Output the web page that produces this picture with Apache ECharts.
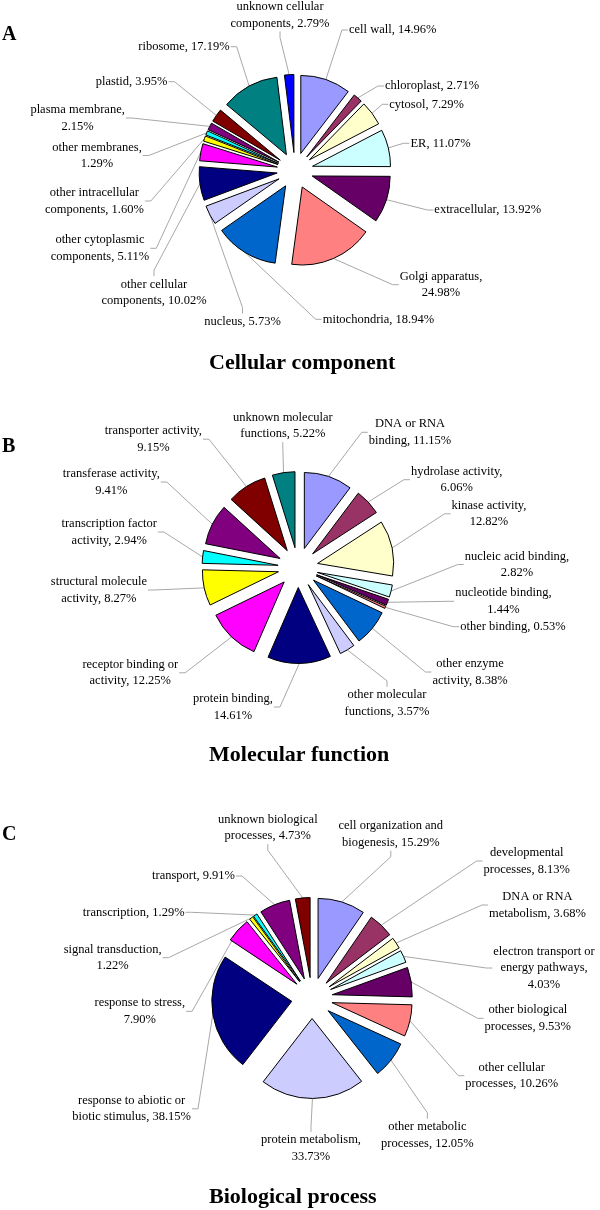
<!DOCTYPE html>
<html>
<head>
<meta charset="utf-8">
<script src="https://cdn.jsdelivr.net/npm/echarts@6/dist/echarts.min.js"></script>
<style>html,body{margin:0;padding:0;background:#fff}#c{width:600px;height:1210px}</style>
</head>
<body>
<div id="c"></div>
<script>
// ---------- data ----------
const catA = ['cell wall','chloroplast','cytosol','ER','extracellular','Golgi apparatus','mitochondria','nucleus','other cellular\ncomponents','other cytoplasmic\ncomponents','other intracellular\ncomponents','other membranes','plasma membrane','plastid','ribosome','unknown cellular\ncomponents'];
const valA = [14.96,2.71,7.29,11.07,13.92,24.98,18.94,5.73,10.02,5.11,1.60,1.29,2.15,3.95,17.19,2.79];

const catB = ['DNA or RNA\nbinding','hydrolase activity','kinase activity','nucleic acid binding','nucleotide binding','other binding','other enzyme\nactivity','other molecular\nfunctions','protein binding','receptor binding or\nactivity','structural molecule\nactivity','transcription factor\nactivity','transferase activity','transporter activity','unknown molecular\nfunctions'];
const valB = [11.15,6.06,12.82,2.82,1.44,0.53,8.38,3.57,14.61,12.25,8.27,2.94,9.41,9.15,5.22];

const catC = ['cell organization and\nbiogenesis','developmental\nprocesses','DNA or RNA\nmetabolism','electron transport or\nenergy pathways','other biological\nprocesses','other cellular\nprocesses','other metabolic\nprocesses','protein metabolism','response to abiotic or\nbiotic stimulus','response to stress','signal transduction','transcription','transport','unknown biological\nprocesses'];
const valC = [15.29,8.13,3.68,4.03,9.53,10.26,12.05,33.73,38.15,7.90,1.22,1.29,9.91,4.73];

const titles = ['Cellular component','Molecular function','Biological process'];
const panelLetters = ['A','B','C'];

// names whose label breaks right after the comma
const breakAfterComma = new Set(['Golgi apparatus','other membranes','plasma membrane','hydrolase activity','kinase activity','nucleic acid binding','nucleotide binding','protein binding','transferase activity','transporter activity','electron transport or\nenergy pathways','protein metabolism','response to stress','signal transduction']);

// ---------- style / layout ----------
const palette = ['#9999FF','#993366','#FFFFCC','#CCFFFF','#660066','#FF8080','#0066CC','#CCCCFF','#000080','#FF00FF','#FFFF00','#00FFFF','#800080','#800000','#008080','#0000FF'];
const FONT = '"Liberation Serif","Times New Roman",serif';

const pies = [
  {center:[295,170.5], r:78, off:18},
  {center:[298,567.5], r:76, off:20},
  {center:[312,998],   r:80, off:20.5}
];
// label block centres (text layout only)
const labelPos = [
  [[392.7,30],[432,86],[426.6,104.3],[440.6,143.3],[487.7,210],[441,284.7],[378.4,319.3],[242.5,321.7],[154,292.7],[100,248.3],[94.4,201],[97,155.5],[77.6,118],[131.6,81.7],[184,46.7],[280,15]],
  [[410,432.3],[456.7,479.7],[489,513.8],[517,564.5],[503.4,601.3],[513,626.7],[470,672],[387,703.3],[233,707],[130.3,672.8],[98.9,590],[109.2,532],[111.3,482],[153.4,439.2],[282.8,425.7]],
  [[390.8,834.3],[526.8,861],[537.4,905],[544,968],[527.8,1018.3],[511.7,1075.7],[427.4,1135.3],[311,1148.3],[131.6,1108.8],[139.8,1011.3],[112.6,957.7],[133.7,912.3],[193.5,876],[267.8,827.7]]
];
const titlePos = [[209,363],[209,755],[209,1197]];
const letterPos = [[2,35],[2,447],[2,835]];

function fmt(name, v) {
  return breakAfterComma.has(name) ? name + ',\n' + v.toFixed(2) + '%' : name + ', ' + v.toFixed(2) + '%';
}

// One pie series per exploded slice: the same data ring, only slice i painted,
// the series centre pushed outward along that slice's bisector (exploded pie).
function makeSlices(pi, cats, vals) {
  const cfg = pies[pi];
  const total = vals.reduce((a, b) => a + b, 0);
  let cum = 0;
  const out = [];
  vals.forEach((v, i) => {
    const mid = (cum + v / 2) / total * 2 * Math.PI; // clockwise from 12 o'clock
    cum += v;
    const c = [cfg.center[0] + cfg.off * Math.sin(mid), cfg.center[1] - cfg.off * Math.cos(mid)];
    const pos = labelPos[pi][i];
    out.push({
      type: 'pie',
      center: c,
      radius: [0, cfg.r],
      startAngle: 90,
      clockwise: true,
      silent: true,
      avoidLabelOverlap: false,
      minShowLabelAngle: 0,
      animation: false,
      emphasis: {disabled: true},
      label: {
        show: true, position: 'outside', color: '#000',
        fontFamily: FONT, fontSize: 12.5, lineHeight: 16.5,
        formatter: p => fmt(p.name, p.value)
      },
      labelLine: {show: true, length: 15, length2: 6, lineStyle: {color: '#a8a8a8', width: 1}},
      labelLayout: function (params) {
        const res = {x: pos[0], y: pos[1], align: 'center', verticalAlign: 'middle'};
        const pts = params.labelLinePoints;
        if (!pts || params.dataIndex !== i) return res;
        const ax = pts[0][0], ay = pts[0][1];
        const w = params.labelRect.width, h = params.labelRect.height;
        const stub = 6;
        const cands = [
          [pos[0] - w / 2 - 1, pos[1], -1, 0],
          [pos[0] + w / 2 + 1, pos[1], 1, 0],
          [pos[0], pos[1] - h / 2, 0, -1],
          [pos[0], pos[1] + h / 2, 0, 1]
        ];
        let best = null, bd = Infinity;
        cands.forEach(cd => {
          const ex = cd[0] + cd[2] * stub, ey = cd[1] + cd[3] * stub;
          const d = Math.hypot(ex - ax, ey - ay);
          if (d < bd) { bd = d; best = [cd[0], cd[1], ex, ey]; }
        });
        res.labelLinePoints = [[ax, ay], [best[2], best[3]], [best[0], best[1]]];
        return res;
      },
      data: cats.map((n, j) => j === i ? {
        name: n, value: vals[j],
        itemStyle: {color: palette[j % palette.length], borderColor: '#000', borderWidth: 1}
      } : {
        name: n, value: vals[j],
        itemStyle: {color: 'rgba(0,0,0,0)', borderWidth: 0},
        label: {show: false}, labelLine: {show: false}
      })
    });
  });
  return out;
}

const graphics = [];
titles.forEach((t, i) => {
  graphics.push({type: 'text', x: titlePos[i][0], y: titlePos[i][1],
    style: {text: t, font: 'bold 22px ' + FONT, fill: '#000', textAlign: 'left', textVerticalAlign: 'middle'}});
  graphics.push({type: 'text', x: letterPos[i][0], y: letterPos[i][1],
    style: {text: panelLetters[i], font: 'bold 20px ' + FONT, fill: '#000', textAlign: 'left', textVerticalAlign: 'middle'}});
});

const chart = echarts.init(document.getElementById('c'), null, {renderer: 'canvas'});
chart.setOption({
  backgroundColor: '#fff',
  animation: false,
  series: [].concat(makeSlices(0, catA, valA), makeSlices(1, catB, valB), makeSlices(2, catC, valC)),
  graphic: graphics
});
</script>
</body>
</html>
